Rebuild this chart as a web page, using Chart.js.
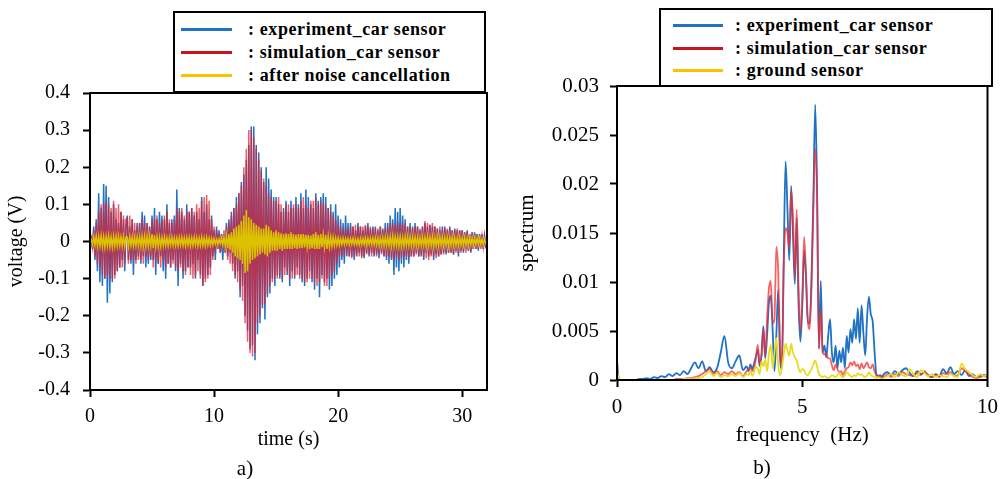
<!DOCTYPE html>
<html>
<head>
<meta charset="utf-8">
<script src="https://cdn.jsdelivr.net/npm/chart.js@4.4.1/dist/chart.umd.min.js"></script>
<style>
  body { margin: 0; background: #fff; width: 1006px; height: 479px; position: relative; overflow: hidden; font-family: "Liberation Serif", "Times New Roman", serif; }
  canvas { position: absolute; top: 0; }
  #left { left: 0; }
  #right { left: 500px; }
  .legend { position: absolute; border: 2px solid #000; background: #fff; box-sizing: border-box; }
  .legend .row { position: absolute; left: 0; right: 0; height: 22px; }
  .legend .swatch { position: absolute; top: 10px; height: 3px; }
  .legend .txt { position: absolute; top: 0; font-weight: bold; font-size: 18px; letter-spacing: 0.6px; white-space: nowrap; line-height: 22px; color: #000; }
  .cap { position: absolute; font-size: 21px; color: #000; transform: translate(-50%, -50%); }
</style>
</head>
<body>
<canvas id="left" width="500" height="479"></canvas>
<canvas id="right" width="506" height="479"></canvas>
<div class="legend" id="legLeft" style="left:173px; top:11px; width:313px; height:82px;"></div>
<div class="legend" id="legRight" style="left:659px; top:8px; width:334px; height:79px;"></div>
<div class="cap" style="left:245px; top:468px;">a)</div>
<div class="cap" style="left:762px; top:467px;">b)</div>
<script>
// ---- a) time signal, one sample every 0.1 s (one row = one second) ----
const time = [
  0, 0.1, 0.2, 0.3, 0.4, 0.5, 0.6, 0.7, 0.8, 0.9,
  1, 1.1, 1.2, 1.3, 1.4, 1.5, 1.6, 1.7, 1.8, 1.9,
  2, 2.1, 2.2, 2.3, 2.4, 2.5, 2.6, 2.7, 2.8, 2.9,
  3, 3.1, 3.2, 3.3, 3.4, 3.5, 3.6, 3.7, 3.8, 3.9,
  4, 4.1, 4.2, 4.3, 4.4, 4.5, 4.6, 4.7, 4.8, 4.9,
  5, 5.1, 5.2, 5.3, 5.4, 5.5, 5.6, 5.7, 5.8, 5.9,
  6, 6.1, 6.2, 6.3, 6.4, 6.5, 6.6, 6.7, 6.8, 6.9,
  7, 7.1, 7.2, 7.3, 7.4, 7.5, 7.6, 7.7, 7.8, 7.9,
  8, 8.1, 8.2, 8.3, 8.4, 8.5, 8.6, 8.7, 8.8, 8.9,
  9, 9.1, 9.2, 9.3, 9.4, 9.5, 9.6, 9.7, 9.8, 9.9,
  10, 10.1, 10.2, 10.3, 10.4, 10.5, 10.6, 10.7, 10.8, 10.9,
  11, 11.1, 11.2, 11.3, 11.4, 11.5, 11.6, 11.7, 11.8, 11.9,
  12, 12.1, 12.2, 12.3, 12.4, 12.5, 12.6, 12.7, 12.8, 12.9,
  13, 13.1, 13.2, 13.3, 13.4, 13.5, 13.6, 13.7, 13.8, 13.9,
  14, 14.1, 14.2, 14.3, 14.4, 14.5, 14.6, 14.7, 14.8, 14.9,
  15, 15.1, 15.2, 15.3, 15.4, 15.5, 15.6, 15.7, 15.8, 15.9,
  16, 16.1, 16.2, 16.3, 16.4, 16.5, 16.6, 16.7, 16.8, 16.9,
  17, 17.1, 17.2, 17.3, 17.4, 17.5, 17.6, 17.7, 17.8, 17.9,
  18, 18.1, 18.2, 18.3, 18.4, 18.5, 18.6, 18.7, 18.8, 18.9,
  19, 19.1, 19.2, 19.3, 19.4, 19.5, 19.6, 19.7, 19.8, 19.9,
  20, 20.1, 20.2, 20.3, 20.4, 20.5, 20.6, 20.7, 20.8, 20.9,
  21, 21.1, 21.2, 21.3, 21.4, 21.5, 21.6, 21.7, 21.8, 21.9,
  22, 22.1, 22.2, 22.3, 22.4, 22.5, 22.6, 22.7, 22.8, 22.9,
  23, 23.1, 23.2, 23.3, 23.4, 23.5, 23.6, 23.7, 23.8, 23.9,
  24, 24.1, 24.2, 24.3, 24.4, 24.5, 24.6, 24.7, 24.8, 24.9,
  25, 25.1, 25.2, 25.3, 25.4, 25.5, 25.6, 25.7, 25.8, 25.9,
  26, 26.1, 26.2, 26.3, 26.4, 26.5, 26.6, 26.7, 26.8, 26.9,
  27, 27.1, 27.2, 27.3, 27.4, 27.5, 27.6, 27.7, 27.8, 27.9,
  28, 28.1, 28.2, 28.3, 28.4, 28.5, 28.6, 28.7, 28.8, 28.9,
  29, 29.1, 29.2, 29.3, 29.4, 29.5, 29.6, 29.7, 29.8, 29.9,
  30, 30.1, 30.2, 30.3, 30.4, 30.5, 30.6, 30.7, 30.8, 30.9,
  31, 31.1, 31.2, 31.3, 31.4, 31.5, 31.6, 31.7, 31.8, 31.9,
  32
]

const expVolt = [
  0, 0.01, -0.02, 0.04, -0.05, 0.06, -0.08, 0.13, -0.11, 0.09,
  -0.12, 0.155, -0.1, 0.15, -0.165, 0.12, -0.14, 0.08, -0.11, 0.1,
  -0.09, 0.06, -0.08, 0.05, -0.07, 0.08, -0.05, 0.06, -0.08, 0.04,
  0.07, -0.05, 0.04, -0.06, 0.06, -0.09, 0.03, -0.05, 0.05, -0.04,
  0.05, -0.06, 0.08, -0.04, 0.07, -0.07, 0.05, -0.06, 0.04, -0.05,
  0.07, -0.05, 0.09, -0.09, 0.06, -0.06, 0.08, -0.04, 0.07, -0.08,
  0.06, -0.1, 0.1, -0.06, 0.05, -0.07, 0.06, -0.05, 0.07, -0.08,
  0.14, -0.12, 0.09, -0.06, 0.08, -0.1, 0.06, -0.08, 0.1, -0.07,
  0.08, -0.07, 0.09, -0.06, 0.07, -0.1, 0.08, -0.05, 0.06, -0.09,
  0.12, -0.12, 0.08, -0.1, 0.1, -0.09, 0.06, -0.07, 0.07, -0.04,
  0.03, -0.05, 0.04, -0.02, 0.03, -0.03, 0.02, -0.05, 0.02, -0.03,
  0.05, -0.04, 0.06, -0.03, 0.08, -0.06, 0.09, -0.1, 0.12, -0.08,
  0.13, -0.15, 0.16, -0.12, 0.18, -0.2, 0.22, -0.24, 0.26, -0.29,
  0.31, -0.28, 0.31, -0.32, 0.26, -0.25, 0.24, -0.22, 0.2, -0.18,
  0.16, -0.21, 0.2, -0.15, 0.17, -0.14, 0.14, -0.1, 0.12, -0.12,
  0.12, -0.09, 0.1, -0.1, 0.08, -0.11, 0.09, -0.07, 0.11, -0.09,
  0.08, -0.12, 0.11, -0.08, 0.09, -0.1, 0.12, -0.07, 0.1, -0.09,
  0.13, -0.11, 0.09, -0.12, 0.14, -0.1, 0.12, -0.08, 0.1, -0.11,
  0.09, -0.13, 0.13, -0.1, 0.11, -0.15, 0.12, -0.09, 0.13, -0.11,
  0.12, -0.1, 0.09, -0.13, 0.1, -0.12, 0.08, -0.1, 0.1, -0.09,
  0.07, -0.07, 0.06, -0.05, 0.05, -0.06, 0.07, -0.04, 0.05, -0.04,
  0.05, -0.04, 0.04, -0.05, 0.03, -0.04, 0.05, -0.03, 0.04, -0.04,
  0.03, -0.045, 0.04, -0.03, 0.05, -0.04, 0.035, -0.03, 0.04, -0.04,
  0.04, -0.035, 0.03, -0.045, 0.04, -0.03, 0.035, -0.04, 0.05, -0.05,
  0.05, -0.06, 0.07, -0.05, 0.06, -0.09, 0.09, -0.07, 0.08, -0.08,
  0.09, -0.06, 0.07, -0.07, 0.06, -0.05, 0.04, -0.06, 0.05, -0.04,
  0.04, -0.04, 0.05, -0.03, 0.04, -0.04, 0.03, -0.04, 0.04, -0.05,
  0.05, -0.03, 0.04, -0.04, 0.045, -0.035, 0.04, -0.05, 0.04, -0.035,
  0.035, -0.04, 0.03, -0.035, 0.04, -0.03, 0.04, -0.035, 0.03, -0.03,
  0.04, -0.03, 0.03, -0.035, 0.035, -0.025, 0.03, -0.04, 0.03, -0.025,
  0.03, -0.03, 0.025, -0.02, 0.03, -0.025, 0.02, -0.03, 0.025, -0.02,
  0.025, -0.02, 0.02, -0.025, 0.02, -0.015, 0.02, -0.02, 0.015, -0.015,
  -0.02
]

const simVolt = [
  0, 0.01, -0.015, 0.03, -0.04, 0.05, -0.06, 0.08, -0.07, 0.1,
  -0.09, 0.1, -0.1, 0.11, -0.09, 0.1, -0.1, 0.09, -0.1, 0.11,
  -0.1, 0.09, -0.08, 0.1, -0.07, 0.08, -0.07, 0.07, -0.06, 0.06,
  0.06, -0.06, 0.07, -0.05, 0.06, -0.05, 0.05, -0.06, 0.04, -0.05,
  0.05, -0.05, 0.06, -0.06, 0.05, -0.04, 0.05, -0.05, 0.04, -0.04,
  0.06, -0.07, 0.06, -0.05, 0.07, -0.06, 0.05, -0.07, 0.06, -0.05,
  0.07, -0.07, 0.08, -0.06, 0.06, -0.07, 0.05, -0.06, 0.06, -0.07,
  0.09, -0.08, 0.08, -0.07, 0.09, -0.08, 0.07, -0.09, 0.08, -0.07,
  0.08, -0.09, 0.09, -0.1, 0.08, -0.09, 0.1, -0.08, 0.09, -0.1,
  0.11, -0.12, 0.12, -0.11, 0.125, -0.1, 0.11, -0.09, 0.06, -0.05,
  0.04, -0.03, 0.03, -0.02, 0.02, -0.03, 0.02, -0.02, 0.03, -0.03,
  0.04, -0.05, 0.05, -0.06, 0.07, -0.08, 0.09, -0.09, 0.1, -0.11,
  0.13, -0.13, 0.15, -0.16, 0.2, -0.22, 0.25, -0.27, 0.3, -0.3,
  0.3, -0.31, 0.28, -0.3, 0.25, -0.22, 0.22, -0.2, 0.19, -0.17,
  0.17, -0.17, 0.15, -0.14, 0.13, -0.12, 0.12, -0.11, 0.11, -0.1,
  0.11, -0.1, 0.12, -0.09, 0.1, -0.1, 0.08, -0.09, 0.1, -0.08,
  0.1, -0.1, 0.09, -0.1, 0.1, -0.09, 0.1, -0.09, 0.09, -0.1,
  0.11, -0.1, 0.12, -0.11, 0.1, -0.11, 0.09, -0.1, 0.11, -0.1,
  0.11, -0.11, 0.12, -0.12, 0.1, -0.11, 0.11, -0.1, 0.1, -0.12,
  0.1, -0.12, 0.09, -0.1, 0.08, -0.09, 0.07, -0.08, 0.06, -0.06,
  0.05, -0.04, 0.04, -0.04, 0.03, -0.04, 0.04, -0.03, 0.03, -0.04,
  0.04, -0.045, 0.04, -0.04, 0.045, -0.035, 0.04, -0.04, 0.04, -0.045,
  0.04, -0.04, 0.045, -0.035, 0.04, -0.035, 0.04, -0.04, 0.035, -0.035,
  0.035, -0.04, 0.035, -0.03, 0.04, -0.035, 0.03, -0.04, 0.035, -0.04,
  0.04, -0.04, 0.05, -0.045, 0.05, -0.05, 0.045, -0.04, 0.05, -0.05,
  0.05, -0.045, 0.05, -0.04, 0.045, -0.04, 0.04, -0.045, 0.04, -0.04,
  0.035, -0.04, 0.04, -0.035, 0.04, -0.04, 0.035, -0.035, 0.04, -0.04,
  0.055, -0.045, 0.05, -0.05, 0.045, -0.04, 0.05, -0.04, 0.04, -0.045,
  0.035, -0.04, 0.04, -0.035, 0.03, -0.035, 0.035, -0.03, 0.035, -0.03,
  0.035, -0.03, 0.03, -0.035, 0.03, -0.03, 0.035, -0.03, 0.03, -0.03,
  0.03, -0.025, 0.025, -0.03, 0.025, -0.025, 0.02, -0.025, 0.025, -0.02,
  0.02, -0.02, 0.02, -0.02, 0.015, -0.02, 0.015, -0.015, 0.015, -0.015,
  -0.01
]

const cancelVolt = [
  0, 0.005, -0.008, 0.012, -0.01, 0.015, -0.013, 0.014, -0.012, 0.016,
  -0.015, 0.013, -0.016, 0.014, -0.012, 0.015, -0.014, 0.012, -0.015, 0.014,
  -0.013, 0.015, -0.012, 0.014, -0.011, 0.013, -0.012, 0.014, -0.013, 0.012,
  0.012, -0.014, 0.013, -0.011, 0.012, -0.013, 0.011, -0.012, 0.013, -0.011,
  0.013, -0.014, 0.016, -0.013, 0.015, -0.014, 0.015, -0.013, 0.014, -0.012,
  0.02, -0.018, 0.017, -0.015, 0.013, -0.014, 0.012, -0.013, 0.011, -0.012,
  0.012, -0.011, 0.01, -0.012, 0.011, -0.01, 0.012, -0.011, 0.01, -0.011,
  0.01, -0.012, 0.011, -0.01, 0.012, -0.011, 0.01, -0.012, 0.011, -0.01,
  0.011, -0.012, 0.01, -0.011, 0.012, -0.01, 0.011, -0.012, 0.01, -0.011,
  0.012, -0.011, 0.01, -0.012, 0.011, -0.01, 0.009, -0.01, 0.008, -0.009,
  0.008, -0.007, 0.006, -0.008, 0.007, -0.006, 0.008, -0.01, 0.012, -0.013,
  0.015, -0.018, 0.02, -0.022, 0.025, -0.03, 0.035, -0.04, 0.04, -0.045,
  0.045, -0.05, 0.055, -0.06, 0.07, -0.085, 0.085, -0.08, 0.065, -0.06,
  0.06, -0.05, 0.05, -0.045, 0.045, -0.04, 0.04, -0.035, 0.035, -0.03,
  0.035, -0.035, 0.045, -0.04, 0.04, -0.03, 0.03, -0.025, 0.025, -0.025,
  0.03, -0.025, 0.025, -0.02, 0.022, -0.025, 0.02, -0.02, 0.022, -0.02,
  0.02, -0.02, 0.025, -0.02, 0.02, -0.018, 0.018, -0.02, 0.02, -0.018,
  0.02, -0.018, 0.02, -0.016, 0.018, -0.015, 0.018, -0.02, 0.016, -0.018,
  0.02, -0.02, 0.025, -0.02, 0.018, -0.02, 0.02, -0.015, 0.018, -0.015,
  0.018, -0.02, 0.015, -0.015, 0.012, -0.013, 0.012, -0.011, 0.01, -0.01,
  0.01, -0.01, 0.008, -0.008, 0.009, -0.008, 0.008, -0.007, 0.008, -0.008,
  0.008, -0.007, 0.009, -0.008, 0.007, -0.008, 0.007, -0.009, 0.008, -0.008,
  0.008, -0.008, 0.009, -0.01, 0.009, -0.008, 0.009, -0.008, 0.01, -0.009,
  0.01, -0.009, 0.01, -0.011, 0.01, -0.01, 0.011, -0.012, 0.012, -0.011,
  0.012, -0.012, 0.014, -0.013, 0.015, -0.014, 0.013, -0.012, 0.013, -0.014,
  0.014, -0.013, 0.012, -0.013, 0.014, -0.012, 0.013, -0.012, 0.013, -0.012,
  0.012, -0.012, 0.013, -0.011, 0.012, -0.012, 0.011, -0.012, 0.012, -0.011,
  0.012, -0.013, 0.014, -0.012, 0.013, -0.012, 0.013, -0.014, 0.012, -0.012,
  0.012, -0.012, 0.013, -0.011, 0.012, -0.011, 0.012, -0.011, 0.011, -0.012,
  0.012, -0.011, 0.012, -0.01, 0.011, -0.011, 0.01, -0.011, 0.011, -0.01,
  0.01, -0.01, 0.011, -0.01, 0.009, -0.01, 0.01, -0.009, 0.01, -0.009,
  0.009, -0.008, 0.009, -0.008, 0.008, -0.008, 0.007, -0.008, 0.007, -0.006,
  -0.005
]

const timeTicks = [0, 10, 20, 30]
const voltTicks = [-0.4, -0.3, -0.2, -0.1, 0, 0.1, 0.2, 0.3, 0.4]

// ---- b) spectrum ----
const freq = [
  0, 0.05, 0.1, 0.2, 0.3, 0.4, 0.5, 0.6, 0.7, 0.8, 0.9,
  1, 1.1, 1.2, 1.3, 1.4, 1.5, 1.6, 1.7, 1.8, 1.9,
  2, 2.1, 2.2, 2.3, 2.4, 2.5, 2.6, 2.7, 2.8, 2.9,
  3, 3.1, 3.2, 3.3, 3.4, 3.5,
  3.55, 3.6, 3.65, 3.7, 3.75, 3.8, 3.85, 3.9, 3.95,
  4, 4.05, 4.1, 4.15, 4.2, 4.25, 4.3, 4.35, 4.4, 4.45,
  4.5, 4.55, 4.6, 4.65, 4.7, 4.75, 4.8, 4.85, 4.9, 4.95,
  5, 5.05, 5.1, 5.15, 5.2, 5.25, 5.3, 5.35, 5.4, 5.45,
  5.5, 5.55, 5.6, 5.65, 5.7, 5.75, 5.8, 5.85, 5.9, 5.95,
  6, 6.05, 6.1, 6.15, 6.2, 6.25, 6.3, 6.35, 6.4, 6.45,
  6.5, 6.55, 6.6, 6.65, 6.7, 6.75, 6.8, 6.85, 6.9, 6.95,
  7, 7.05, 7.1, 7.15, 7.2,
  7.3, 7.4, 7.5, 7.6, 7.7, 7.8, 7.9, 8, 8.1, 8.2,
  8.3, 8.4, 8.5, 8.6, 8.7, 8.8, 8.9, 9, 9.1, 9.2,
  9.3, 9.4, 9.5, 9.6, 9.7, 9.8, 9.9, 10
]

const expSpec = [
  0.002, 0.0001, 0, 0, 0, 0, 0, 0.0001, 0.0001, 0.0002, 0.0001,
  0.0003, 0.0002, 0.0004, 0.0003, 0.0006, 0.0004, 0.0007, 0.0005, 0.0009, 0.0006,
  0.0012, 0.0018, 0.0012, 0.0019, 0.0009, 0.0013, 0.0008, 0.0012, 0.0028, 0.0045,
  0.0018, 0.0012, 0.0019, 0.0025, 0.001, 0.0014,
  0.0009, 0.0016, 0.0011, 0.0017, 0.0024, 0.0031, 0.0014, 0.0026, 0.0055,
  0.0022, 0.0045, 0.0079, 0.0086, 0.0052, 0.0009, 0.0045, 0.0092, 0.0025, 0.0011,
  0.0123, 0.0223, 0.0175, 0.0122, 0.0198, 0.0148, 0.0098, 0.0165, 0.0078, 0.0039,
  0.0075, 0.0132, 0.0105, 0.0058, 0.0058, 0.0105, 0.0185, 0.0281, 0.0195, 0.0032,
  0.0101, 0.0028, 0.0035, 0.0023, 0.0045, 0.0062, 0.0028, 0.0018, 0.0035, 0.0012,
  0.003, 0.0018, 0.0033, 0.0012, 0.0045, 0.0028, 0.0052, 0.0038, 0.0062, 0.0042,
  0.0073, 0.0038, 0.0076, 0.0048, 0.0025, 0.0064, 0.0085, 0.0067, 0.006, 0.003,
  0.0006, 0.0004, 0.0005, 0.0003, 0.0006,
  0.0008, 0.0005, 0.0009, 0.0006, 0.001, 0.0012, 0.0007, 0.0004, 0.0009, 0.0006,
  0.0008, 0.0005, 0.0003, 0.0006, 0.0004, 0.0011, 0.0007, 0.0013, 0.0006, 0.0009,
  0.0005, 0.001, 0.0004, 0.0006, 0.0003, 0.0004, 0.0005, 0.0005
]

const simSpec = [
  0.0008, 0, 0, 0, 0, 0, 0, 0, 0, 0, 0,
  0, 0, 0, 0, 0, 0, 0.0001, 0.0001, 0.0001, 0.0002,
  0.0002, 0.0003, 0.0004, 0.0006, 0.0009, 0.0011, 0.0006, 0.0009, 0.0005, 0.0008,
  0.0006, 0.0009, 0.0006, 0.0008, 0.0004, 0.0009,
  0.0011, 0.0013, 0.0009, 0.0012, 0.0022, 0.0036, 0.0016, 0.0024, 0.0052,
  0.0025, 0.0062, 0.0093, 0.0101, 0.0058, 0.0062, 0.0136, 0.0112, 0.0032, 0.0015,
  0.0115, 0.0155, 0.0151, 0.0135, 0.0194, 0.0165, 0.0105, 0.0174, 0.0095, 0.005,
  0.0082, 0.0146, 0.011, 0.0062, 0.0052, 0.0095, 0.0175, 0.0236, 0.0185, 0.0032,
  0.0071, 0.0028, 0.0026, 0.0027, 0.0022, 0.0022, 0.0015, 0.001, 0.0016, 0.0011,
  0.0008, 0.0009, 0.0005, 0.0009, 0.0012, 0.0013, 0.0018, 0.0015, 0.0019, 0.0014,
  0.0016, 0.0011, 0.0017, 0.0012, 0.0015, 0.0018, 0.0013, 0.0012, 0.0016, 0.0009,
  0.0005, 0.0004, 0.0003, 0.0004, 0.0003,
  0.0006, 0.0003, 0.0006, 0.0004, 0.0008, 0.0006, 0.0005, 0.0004, 0.0007, 0.0005,
  0.0009, 0.0004, 0.0003, 0.0005, 0.0003, 0.0007, 0.0006, 0.0008, 0.0004, 0.0005,
  0.0012, 0.0009, 0.0006, 0.0003, 0.0002, 0.0003, 0.0004, 0.0003
]

const groundSpec = [
  0.001, 0.0001, 0, 0, 0, 0, 0, 0, 0, 0, 0,
  0, 0, 0, 0, 0, 0, 0, 0, 0.0001, 0.0001,
  0.0001, 0.0002, 0.0002, 0.0003, 0.0006, 0.0009, 0.0004, 0.0007, 0.0003, 0.0005,
  0.0004, 0.0006, 0.0004, 0.0007, 0.0003, 0.0006,
  0.0005, 0.0009, 0.0004, 0.0008, 0.0014, 0.0011, 0.0006, 0.0019, 0.0014,
  0.0021, 0.0009, 0.0027, 0.0036, 0.0012, 0.0028, 0.0043, 0.0016, 0.0005, 0.0012,
  0.0026, 0.0037, 0.003, 0.0025, 0.0037, 0.0028, 0.0023, 0.002, 0.0012, 0.0008,
  0.0011, 0.001, 0.0006, 0.0005, 0.0008, 0.0011, 0.0016, 0.002, 0.0014, 0.0006,
  0.0004, 0.0003, 0.0004, 0.0003, 0.0002, 0.0003, 0.0005, 0.0004, 0.0003, 0.0005,
  0.0007, 0.0004, 0.0003, 0.0005, 0.0008, 0.0006, 0.0004, 0.0003, 0.0005, 0.0004,
  0.0007, 0.0005, 0.0006, 0.0004, 0.0003, 0.0005, 0.0008, 0.0005, 0.0004, 0.0003,
  0.0002, 0.0003, 0.0002, 0.0001, 0.0002,
  0.0004, 0.0006, 0.0003, 0.0008, 0.0005, 0.0004, 0.0011, 0.0006, 0.0003, 0.001,
  0.0007, 0.0004, 0.0006, 0.0003, 0.0005, 0.0004, 0.0003, 0.0006, 0.0004, 0.0003,
  0.0017, 0.0011, 0.0008, 0.0005, 0.0003, 0.0006, 0.0004, 0.0006
]

const freqTicks = [0, 5, 10]
const specTicks = [0, 0.005, 0.01, 0.015, 0.02, 0.025, 0.03]

const leftLabels = [': experiment_car sensor', ': simulation_car sensor', ': after noise cancellation']
const rightLabels = [': experiment_car sensor', ': simulation_car sensor', ': ground sensor']
const legendColors = ['#1f72c4', '#c8141e', '#ffc000']

function pts(xs, ys) {
  return xs.map((x, i) => ({ x: x, y: ys[i] }))
}

// full black box round the plot area
const frame = {
  id: 'frame',
  afterDraw(chart) {
    const { ctx, chartArea: a } = chart
    ctx.save()
    ctx.strokeStyle = '#000'
    ctx.lineWidth = 2
    ctx.strokeRect(a.left, a.top, a.right - a.left, a.bottom - a.top)
    ctx.restore()
  }
}

function axis(extra) {
  return Object.assign({
    type: 'linear',
    grid: { drawOnChartArea: false, drawTicks: true, tickLength: 7, tickWidth: 2, tickColor: '#000' },
    border: { display: true, color: '#000', width: 2 }
  }, extra)
}

function buildLegend(id, labels, swatchLeft, textLeft, rowTops, swatchWidth) {
  const box = document.getElementById(id)
  labels.forEach((label, i) => {
    const row = document.createElement('div')
    row.className = 'row'
    row.style.top = rowTops[i] + 'px'
    const sw = document.createElement('div')
    sw.className = 'swatch'
    sw.style.left = swatchLeft + 'px'
    sw.style.width = swatchWidth + 'px'
    sw.style.background = legendColors[i]
    const tx = document.createElement('div')
    tx.className = 'txt'
    tx.style.left = textLeft + 'px'
    tx.textContent = label
    row.appendChild(sw)
    row.appendChild(tx)
    box.appendChild(row)
  })
}

buildLegend('legLeft', leftLabels, 6, 73, [5, 28, 51], 51)
buildLegend('legRight', rightLabels, 12, 74, [4, 27, 49], 50)

const serif = '"Liberation Serif", "Times New Roman", serif'

new Chart(document.getElementById('left'), {
  type: 'line',
  data: {
    datasets: [
      { label: leftLabels[0], data: pts(time, expVolt), borderColor: '#1f72c4', borderWidth: 1.5, order: 3 },
      { label: leftLabels[1], data: pts(time, simVolt), borderColor: 'rgba(232,30,45,0.72)', borderWidth: 1.5, order: 2 },
      { label: leftLabels[2], data: pts(time, cancelVolt), borderColor: '#dcc200', borderWidth: 1.5, order: 1 }
    ]
  },
  options: {
    responsive: false,
    animation: false,
    devicePixelRatio: 1,
    layout: { padding: { left: 0, right: 13, top: 93, bottom: 0 } },
    elements: { point: { radius: 0 }, line: { tension: 0 } },
    plugins: { legend: { display: false }, tooltip: { enabled: false } },
    scales: {
      x: axis({
        min: 0, max: 32,
        afterBuildTicks: s => { s.ticks = timeTicks.map(v => ({ value: v })) },
        afterFit: s => { s.height = 89 },
        ticks: { color: '#000', font: { family: serif, size: 20 }, padding: 8, maxRotation: 0, autoSkip: false },
        title: { display: true, text: 'time (s)', color: '#000', font: { family: serif, size: 20 }, padding: { top: 0, bottom: 27 } }
      }),
      y: axis({
        min: -0.4, max: 0.4,
        afterBuildTicks: s => { s.ticks = voltTicks.map(v => ({ value: v })) },
        afterFit: s => { s.width = 90 },
        ticks: { color: '#000', font: { family: serif, size: 20 }, padding: 13, callback: v => String(v) },
        title: { display: true, text: 'voltage (V)', color: '#000', font: { family: serif, size: 20 }, padding: { top: 5, bottom: 0 } }
      })
    }
  },
  plugins: [frame]
})

new Chart(document.getElementById('right'), {
  type: 'line',
  data: {
    datasets: [
      { label: rightLabels[0], data: pts(freq, expSpec), borderColor: '#1f72c4', borderWidth: 1.8, order: 3 },
      { label: rightLabels[1], data: pts(freq, simSpec), borderColor: 'rgba(245,45,50,0.75)', borderWidth: 1.8, order: 2 },
      { label: rightLabels[2], data: pts(freq, groundSpec), borderColor: '#e8dc22', borderWidth: 1.8, order: 1 }
    ]
  },
  options: {
    responsive: false,
    animation: false,
    devicePixelRatio: 1,
    layout: { padding: { left: 0, right: 13, top: 86, bottom: 0 } },
    elements: { point: { radius: 0 }, line: { tension: 0.25, cubicInterpolationMode: 'monotone' } },
    plugins: { legend: { display: false }, tooltip: { enabled: false } },
    scales: {
      x: axis({
        min: 0, max: 10,
        afterBuildTicks: s => { s.ticks = freqTicks.map(v => ({ value: v })) },
        afterFit: s => { s.height = 99 },
        ticks: { color: '#000', font: { family: serif, size: 21 }, padding: 8, maxRotation: 0, autoSkip: false },
        title: { display: true, text: 'frequency  (Hz)', color: '#000', font: { family: serif, size: 21 }, padding: { top: 0, bottom: 31 } }
      }),
      y: axis({
        min: 0, max: 0.03,
        afterBuildTicks: s => { s.ticks = specTicks.map(v => ({ value: v })) },
        afterFit: s => { s.width = 117 },
        ticks: { color: '#000', font: { family: serif, size: 21 }, padding: 11, callback: v => String(v) },
        title: { display: true, text: 'spectrum', color: '#000', font: { family: serif, size: 21 }, padding: { top: 15, bottom: 0 } }
      })
    }
  },
  plugins: [frame]
})
</script>
</body>
</html>
